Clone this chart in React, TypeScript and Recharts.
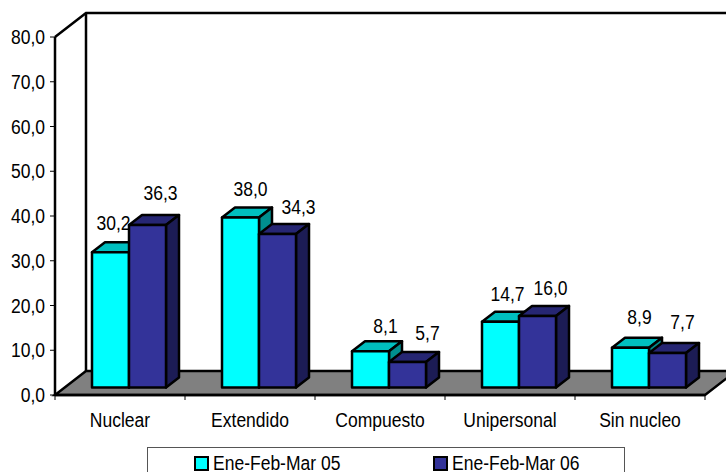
import React from "react";
import { BarChart, Bar, XAxis, YAxis, Legend, LabelList, usePlotArea } from "recharts";

const categories = ["Nuclear", "Extendido", "Compuesto", "Unipersonal", "Sin nucleo"];
const seriesA = [30.2, 38.0, 8.1, 14.7, 8.9];
const seriesB = [36.3, 34.3, 5.7, 16.0, 7.7];
const yTicks = [0, 10, 20, 30, 40, 50, 60, 70, 80];
const nameA = "Ene-Feb-Mar 05";
const nameB = "Ene-Feb-Mar 06";
// hand nudges for the value labels, the source chart places them unevenly
const nudgeXA = [-1, 6, 11, 3, 5];
const nudgeYA = [0, 1, 4, 1, -2];
const nudgeXB = [9, 17, 16, 9, 11];
const nudgeYB = [-3, 2, 0, 1, -2];

const data = categories.map((name, i) => ({ name, a: seriesA[i], b: seriesB[i] }));

const FONT = "'Liberation Sans', Arial, sans-serif";
const FONT_SIZE = 20;
const SQUEEZE = 0.875;
const LINE = 2.5;
// depth of the floor / walls and of the bars
const WALL_DX = 31;
const WALL_DY = 24;
const BAR_DX = 13;
const BAR_DY = 10;
// bars sit a bit behind the front edge of the floor
const INSET_X = 9;
const INSET_Y = 7.5;

const fmt = (v: number) => v.toFixed(1).replace(".", ",");

// the source text is narrow and tall, so squeeze it sideways
function Squeezed({ x, y, anchor, children }: any) {
  return (
    <text
      transform={`translate(${x},${y}) scale(${SQUEEZE},1)`}
      textAnchor={anchor}
      fontFamily={FONT}
      fontSize={FONT_SIZE}
      fill="#000"
    >
      {children}
    </text>
  );
}

function YTick({ x, y, payload }: any) {
  return (
    <Squeezed x={x - 2} y={y + 7} anchor="end">
      {fmt(payload.value)}
    </Squeezed>
  );
}

function XTick({ x, y, payload }: any) {
  return (
    <Squeezed x={x} y={y + 18} anchor="middle">
      {payload.value}
    </Squeezed>
  );
}

function Walls() {
  const plot = usePlotArea();
  if (!plot) return null;
  const { x, y, width, height } = plot;
  const bottom = y + height;
  const right = x + width;
  const backX = x + WALL_DX;
  const floorY = bottom - WALL_DY;
  const topY = y - WALL_DY;
  const step = width / categories.length;
  return (
    <g stroke="#000" strokeWidth={LINE} fill="none">
      <polygon
        points={`${x},${bottom} ${backX},${floorY} ${right + WALL_DX},${floorY} ${right},${bottom}`}
        fill="#808080"
      />
      <polyline points={`${x},${y} ${backX},${topY} ${right + WALL_DX},${topY}`} />
      <line x1={backX} y1={topY} x2={backX} y2={floorY} />
      <line x1={x} y1={y} x2={x} y2={bottom} />
      {categories.map((_, i) => (
        <line key={i} x1={x + step * i} y1={bottom} x2={x + step * i} y2={bottom + 5} strokeWidth={1} />
      ))}
      <line x1={right} y1={bottom} x2={right} y2={bottom + 5} strokeWidth={1} />
    </g>
  );
}

function Box3D(props: any) {
  const { x, y, width, height, fill, topFill, sideFill } = props;
  const l = x + INSET_X;
  const t = y - INSET_Y;
  const r = l + width;
  const b = t + height;
  return (
    <g stroke="#000" strokeWidth={LINE} strokeLinejoin="round">
      <polygon
        points={`${l},${t} ${l + BAR_DX},${t - BAR_DY} ${r + BAR_DX},${t - BAR_DY} ${r},${t}`}
        fill={topFill}
      />
      <polygon
        points={`${r},${t} ${r + BAR_DX},${t - BAR_DY} ${r + BAR_DX},${b - BAR_DY} ${r},${b}`}
        fill={sideFill}
      />
      <rect x={l} y={t} width={width} height={height} fill={fill} />
    </g>
  );
}

function BarValue(props: any) {
  const { x, y, width, value, index, nudgeX, nudgeY } = props;
  return (
    <Squeezed x={x + width / 2 + INSET_X + 4 + nudgeX[index]} y={y - INSET_Y - 22 + nudgeY[index]} anchor="middle">
      {fmt(value)}
    </Squeezed>
  );
}

function LegendBox({ payload }: any) {
  return (
    <div
      style={{
        boxSizing: "border-box",
        width: 478,
        height: 40,
        border: "1px solid #555",
        background: "#fff",
        position: "relative",
      }}
    >
      {(payload || []).map((p: any, i: number) => (
        <div key={p.value} style={{ position: "absolute", left: i === 0 ? 46 : 285, top: 8 }}>
          <span
            style={{ position: "absolute", left: 0, top: 0, boxSizing: "border-box", width: 15, height: 15, background: p.color, border: "2px solid #000" }}
          />
          <span
            style={{
              position: "absolute",
              left: 19,
              top: 0,
              fontFamily: FONT,
              fontSize: FONT_SIZE,
              lineHeight: "15px",
              color: "#000",
              whiteSpace: "nowrap",
              transform: `scaleX(${SQUEEZE})`,
              transformOrigin: "left",
            }}
          >
            {p.value}
          </span>
        </div>
      ))}
    </div>
  );
}

export default function App() {
  return (
    <div style={{ position: "absolute", left: 0, top: 0, width: 726, height: 472, overflow: "hidden", background: "#fff" }}>
      <BarChart
        width={726}
        height={472}
        data={data}
        barSize={37}
        barGap={0}
        margin={{ top: 37, right: 21, left: 0, bottom: 0 }}
      >
        <Walls />
        <XAxis
          dataKey="name"
          height={77}
          tickLine={false}
          axisLine={{ stroke: "#000", strokeWidth: LINE }}
          tick={<XTick />}
          tickMargin={8}
          interval={0}
        />
        <YAxis
          width={55}
          domain={[0, 80]}
          ticks={yTicks}
          axisLine={false}
          tickLine={{ stroke: "#000", strokeWidth: 1 }}
          tickSize={5}
          tick={<YTick />}
          tickMargin={3}
        />
        <Legend
          layout="horizontal"
          verticalAlign="middle"
          align="center"
          content={<LegendBox />}
          wrapperStyle={{ left: 147, top: 447, width: 478, height: 40 }}
        />
        <Bar
          dataKey="a"
          name={nameA}
          fill="#00FFFF"
          isAnimationActive={false}
          shape={(p: any) => <Box3D {...p} topFill="#00BFBF" sideFill="#008F8F" />}
        >
          <LabelList dataKey="a" content={<BarValue nudgeX={nudgeXA} nudgeY={nudgeYA} />} />
        </Bar>
        <Bar
          dataKey="b"
          name={nameB}
          fill="#333399"
          isAnimationActive={false}
          shape={(p: any) => <Box3D {...p} topFill="#262673" sideFill="#1C1C55" />}
        >
          <LabelList dataKey="b" content={<BarValue nudgeX={nudgeXB} nudgeY={nudgeYB} />} />
        </Bar>
      </BarChart>
    </div>
  );
}
